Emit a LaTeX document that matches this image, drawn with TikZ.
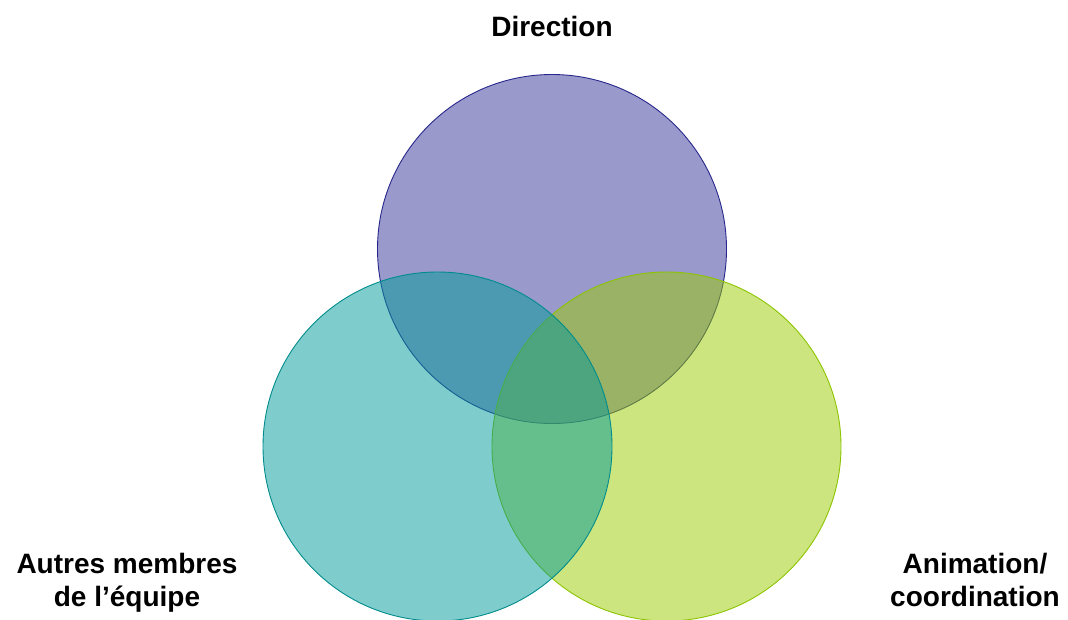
\documentclass[tikz,border=0pt]{standalone}
\usepackage{fontspec}
\setmainfont{Liberation Sans}
\definecolor{cTop}{RGB}{51,51,153}
\definecolor{cLeft}{RGB}{0,153,153}
\definecolor{cRight}{RGB}{153,204,0}
\definecolor{bTop}{RGB}{40,40,140}
\definecolor{bLeft}{RGB}{0,140,140}
\definecolor{bRight}{RGB}{140,196,0}
\begin{document}
\begin{tikzpicture}[x=1pt,y=-1pt,
  venn/.style={circle,inner sep=0pt,minimum size=349pt,fill opacity=0.5,line width=0.9pt},
  lbl/.style={font=\fontsize{28}{33}\selectfont\bfseries,align=center,inner sep=0pt}]
\useasboundingbox (0,0) rectangle (1068,619);
\node[venn,fill=cTop,draw=bTop] (top) at (552,249) {};
\node[venn,fill=cRight,draw=bRight] (right) at (666.5,446.5) {};
\node[venn,fill=cLeft,draw=bLeft] (left) at (437.5,446.5) {};
\node[lbl,anchor=base] (tdir) at (552,36) {Direction};
\node[lbl,anchor=base] (tleft) at (127,606) {Autres membres\\de l’équipe};
\node[lbl,anchor=base] (tright) at (975,606) {Animation/\\coordination};
\end{tikzpicture}
\end{document}
